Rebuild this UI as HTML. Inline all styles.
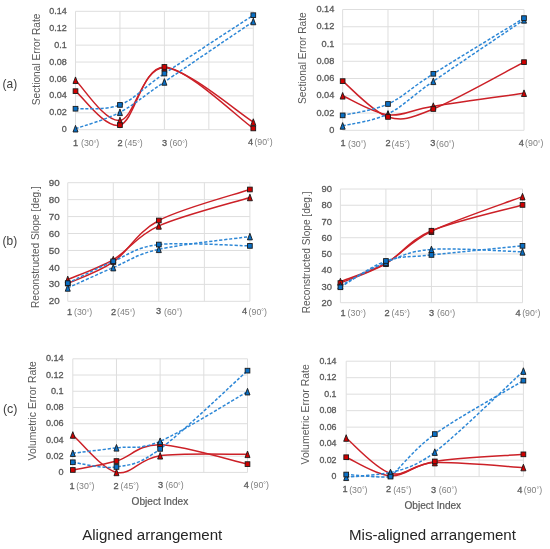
<!DOCTYPE html>
<html><head><meta charset="utf-8"><style>
html,body{margin:0;padding:0;background:#fff;}
body{width:550px;height:549px;overflow:hidden;}
svg{display:block;font-family:"Liberation Sans",sans-serif;will-change:transform;filter:blur(0.4px);}
</style></head><body>
<svg width="550" height="549" viewBox="0 0 550 549">
<rect width="550" height="549" fill="#fff"/>
<g><line x1="75.50" y1="129.70" x2="253.30" y2="129.70" stroke="#dedede" stroke-width="1"/>
<text x="66.80" y="129.30" font-size="9.0" text-anchor="end" fill="#595959" stroke="#595959" stroke-width="0.3" dominant-baseline="central">0</text>
<line x1="75.50" y1="112.79" x2="253.30" y2="112.79" stroke="#dedede" stroke-width="1"/>
<text x="66.80" y="112.39" font-size="9.0" text-anchor="end" fill="#595959" stroke="#595959" stroke-width="0.3" dominant-baseline="central">0.02</text>
<line x1="75.50" y1="95.87" x2="253.30" y2="95.87" stroke="#dedede" stroke-width="1"/>
<text x="66.80" y="95.47" font-size="9.0" text-anchor="end" fill="#595959" stroke="#595959" stroke-width="0.3" dominant-baseline="central">0.04</text>
<line x1="75.50" y1="78.96" x2="253.30" y2="78.96" stroke="#dedede" stroke-width="1"/>
<text x="66.80" y="78.56" font-size="9.0" text-anchor="end" fill="#595959" stroke="#595959" stroke-width="0.3" dominant-baseline="central">0.06</text>
<line x1="75.50" y1="62.04" x2="253.30" y2="62.04" stroke="#dedede" stroke-width="1"/>
<text x="66.80" y="61.64" font-size="9.0" text-anchor="end" fill="#595959" stroke="#595959" stroke-width="0.3" dominant-baseline="central">0.08</text>
<line x1="75.50" y1="45.13" x2="253.30" y2="45.13" stroke="#dedede" stroke-width="1"/>
<text x="66.80" y="44.73" font-size="9.0" text-anchor="end" fill="#595959" stroke="#595959" stroke-width="0.3" dominant-baseline="central">0.1</text>
<line x1="75.50" y1="28.21" x2="253.30" y2="28.21" stroke="#dedede" stroke-width="1"/>
<text x="66.80" y="27.81" font-size="9.0" text-anchor="end" fill="#595959" stroke="#595959" stroke-width="0.3" dominant-baseline="central">0.12</text>
<line x1="75.50" y1="11.30" x2="253.30" y2="11.30" stroke="#dedede" stroke-width="1"/>
<text x="66.80" y="10.90" font-size="9.0" text-anchor="end" fill="#595959" stroke="#595959" stroke-width="0.3" dominant-baseline="central">0.14</text>
<line x1="75.50" y1="11.30" x2="75.50" y2="129.70" stroke="#dedede" stroke-width="1"/>
<line x1="119.95" y1="11.30" x2="119.95" y2="129.70" stroke="#dedede" stroke-width="1"/>
<line x1="164.40" y1="11.30" x2="164.40" y2="129.70" stroke="#dedede" stroke-width="1"/>
<line x1="208.85" y1="11.30" x2="208.85" y2="129.70" stroke="#dedede" stroke-width="1"/>
<line x1="253.30" y1="11.30" x2="253.30" y2="129.70" stroke="#dedede" stroke-width="1"/>
<text transform="translate(39.70,59.35) rotate(-90)" font-size="10.2" text-anchor="middle" fill="#595959">Sectional Error Rate</text>
<text x="73.10" y="146.00" font-size="9.2" fill="#5a5a5a" stroke="#5a5a5a" stroke-width="0.3">1</text>
<text x="81.00" y="146.30" font-size="8.8" fill="#808080">(30<tspan font-size="6.5" dy="-0.6">°</tspan><tspan dy="0.6">)</tspan></text>
<text x="117.40" y="146.00" font-size="9.2" fill="#5a5a5a" stroke="#5a5a5a" stroke-width="0.3">2</text>
<text x="124.50" y="146.30" font-size="8.8" fill="#808080">(45<tspan font-size="6.5" dy="-0.6">°</tspan><tspan dy="0.6">)</tspan></text>
<text x="161.90" y="146.00" font-size="9.2" fill="#5a5a5a" stroke="#5a5a5a" stroke-width="0.3">3</text>
<text x="169.50" y="146.30" font-size="8.8" fill="#808080">(60<tspan font-size="6.5" dy="-0.6">°</tspan><tspan dy="0.6">)</tspan></text>
<text x="247.90" y="144.60" font-size="9.2" fill="#5a5a5a" stroke="#5a5a5a" stroke-width="0.3">4</text>
<text x="254.40" y="144.90" font-size="8.8" fill="#808080">(90<tspan font-size="6.5" dy="-0.6">°</tspan><tspan dy="0.6">)</tspan></text>
<path d="M75.50,80.23 C82.91,86.94 105.13,122.57 119.95,120.48 C134.77,118.40 142.18,67.44 164.40,67.71 C186.62,67.98 238.48,113.03 253.30,122.09" fill="none" stroke="#cc2027" stroke-width="1.5"/>
<path d="M75.50,91.14 C82.91,96.80 105.13,129.16 119.95,125.13 C134.77,121.10 142.18,66.40 164.40,66.95 C186.62,67.50 238.48,118.18 253.30,128.43" fill="none" stroke="#cc2027" stroke-width="1.5"/>
<path d="M75.50,108.73 C82.91,108.09 105.13,110.78 119.95,104.92 C134.77,99.06 142.18,88.50 164.40,73.54 C186.62,58.59 238.48,24.92 253.30,15.19" fill="none" stroke="#2d87d6" stroke-width="1.5" stroke-dasharray="3.2 1.8"/>
<path d="M75.50,128.69 C82.91,125.95 105.13,120.07 119.95,112.28 C134.77,104.48 142.18,97.06 164.40,81.92 C186.62,66.78 238.48,31.53 253.30,21.45" fill="none" stroke="#2d87d6" stroke-width="1.5" stroke-dasharray="3.2 1.8"/>
<path d="M75.50,76.93 L78.00,83.53 L73.00,83.53 Z" fill="#d00000" stroke="#1a1a1a" stroke-width="0.9" stroke-linejoin="miter"/>
<path d="M119.95,117.18 L122.45,123.78 L117.45,123.78 Z" fill="#d00000" stroke="#1a1a1a" stroke-width="0.9" stroke-linejoin="miter"/>
<path d="M164.40,64.41 L166.90,71.01 L161.90,71.01 Z" fill="#d00000" stroke="#1a1a1a" stroke-width="0.9" stroke-linejoin="miter"/>
<path d="M253.30,118.79 L255.80,125.39 L250.80,125.39 Z" fill="#d00000" stroke="#1a1a1a" stroke-width="0.9" stroke-linejoin="miter"/>
<rect x="73.15" y="88.79" width="4.70" height="4.70" fill="#d00000" stroke="#1a1a1a" stroke-width="0.9"/>
<rect x="117.60" y="122.78" width="4.70" height="4.70" fill="#d00000" stroke="#1a1a1a" stroke-width="0.9"/>
<rect x="162.05" y="64.60" width="4.70" height="4.70" fill="#d00000" stroke="#1a1a1a" stroke-width="0.9"/>
<rect x="250.95" y="126.08" width="4.70" height="4.70" fill="#d00000" stroke="#1a1a1a" stroke-width="0.9"/>
<path d="M75.50,125.39 L78.00,131.99 L73.00,131.99 Z" fill="#0a6fc4" stroke="#1a1a1a" stroke-width="0.9" stroke-linejoin="miter"/>
<path d="M119.95,108.98 L122.45,115.58 L117.45,115.58 Z" fill="#0a6fc4" stroke="#1a1a1a" stroke-width="0.9" stroke-linejoin="miter"/>
<path d="M164.40,78.62 L166.90,85.22 L161.90,85.22 Z" fill="#0a6fc4" stroke="#1a1a1a" stroke-width="0.9" stroke-linejoin="miter"/>
<path d="M253.30,18.15 L255.80,24.75 L250.80,24.75 Z" fill="#0a6fc4" stroke="#1a1a1a" stroke-width="0.9" stroke-linejoin="miter"/>
<rect x="73.15" y="106.38" width="4.70" height="4.70" fill="#0a6fc4" stroke="#1a1a1a" stroke-width="0.9"/>
<rect x="117.60" y="102.57" width="4.70" height="4.70" fill="#0a6fc4" stroke="#1a1a1a" stroke-width="0.9"/>
<rect x="162.05" y="71.19" width="4.70" height="4.70" fill="#0a6fc4" stroke="#1a1a1a" stroke-width="0.9"/>
<rect x="250.95" y="12.84" width="4.70" height="4.70" fill="#0a6fc4" stroke="#1a1a1a" stroke-width="0.9"/></g>
<g><line x1="342.65" y1="130.30" x2="524.00" y2="130.30" stroke="#dedede" stroke-width="1"/>
<text x="334.30" y="129.90" font-size="9.2" text-anchor="end" fill="#595959" stroke="#595959" stroke-width="0.3" dominant-baseline="central">0</text>
<line x1="342.65" y1="113.04" x2="524.00" y2="113.04" stroke="#dedede" stroke-width="1"/>
<text x="334.30" y="112.64" font-size="9.2" text-anchor="end" fill="#595959" stroke="#595959" stroke-width="0.3" dominant-baseline="central">0.02</text>
<line x1="342.65" y1="95.79" x2="524.00" y2="95.79" stroke="#dedede" stroke-width="1"/>
<text x="334.30" y="95.39" font-size="9.2" text-anchor="end" fill="#595959" stroke="#595959" stroke-width="0.3" dominant-baseline="central">0.04</text>
<line x1="342.65" y1="78.53" x2="524.00" y2="78.53" stroke="#dedede" stroke-width="1"/>
<text x="334.30" y="78.13" font-size="9.2" text-anchor="end" fill="#595959" stroke="#595959" stroke-width="0.3" dominant-baseline="central">0.06</text>
<line x1="342.65" y1="61.27" x2="524.00" y2="61.27" stroke="#dedede" stroke-width="1"/>
<text x="334.30" y="60.87" font-size="9.2" text-anchor="end" fill="#595959" stroke="#595959" stroke-width="0.3" dominant-baseline="central">0.08</text>
<line x1="342.65" y1="44.01" x2="524.00" y2="44.01" stroke="#dedede" stroke-width="1"/>
<text x="334.30" y="43.61" font-size="9.2" text-anchor="end" fill="#595959" stroke="#595959" stroke-width="0.3" dominant-baseline="central">0.1</text>
<line x1="342.65" y1="26.76" x2="524.00" y2="26.76" stroke="#dedede" stroke-width="1"/>
<text x="334.30" y="26.36" font-size="9.2" text-anchor="end" fill="#595959" stroke="#595959" stroke-width="0.3" dominant-baseline="central">0.12</text>
<line x1="342.65" y1="9.50" x2="524.00" y2="9.50" stroke="#dedede" stroke-width="1"/>
<text x="334.30" y="9.10" font-size="9.2" text-anchor="end" fill="#595959" stroke="#595959" stroke-width="0.3" dominant-baseline="central">0.14</text>
<line x1="342.65" y1="9.50" x2="342.65" y2="130.30" stroke="#dedede" stroke-width="1"/>
<line x1="387.99" y1="9.50" x2="387.99" y2="130.30" stroke="#dedede" stroke-width="1"/>
<line x1="433.32" y1="9.50" x2="433.32" y2="130.30" stroke="#dedede" stroke-width="1"/>
<line x1="478.66" y1="9.50" x2="478.66" y2="130.30" stroke="#dedede" stroke-width="1"/>
<line x1="524.00" y1="9.50" x2="524.00" y2="130.30" stroke="#dedede" stroke-width="1"/>
<text transform="translate(306.40,58.10) rotate(-90)" font-size="10.2" text-anchor="middle" fill="#595959">Sectional Error Rate</text>
<text x="340.50" y="146.40" font-size="9.2" fill="#5a5a5a" stroke="#5a5a5a" stroke-width="0.3">1</text>
<text x="348.00" y="146.70" font-size="8.8" fill="#808080">(30<tspan font-size="6.5" dy="-0.6">°</tspan><tspan dy="0.6">)</tspan></text>
<text x="385.50" y="146.40" font-size="9.2" fill="#5a5a5a" stroke="#5a5a5a" stroke-width="0.3">2</text>
<text x="391.60" y="146.70" font-size="8.8" fill="#808080">(45<tspan font-size="6.5" dy="-0.6">°</tspan><tspan dy="0.6">)</tspan></text>
<text x="430.20" y="146.40" font-size="9.2" fill="#5a5a5a" stroke="#5a5a5a" stroke-width="0.3">3</text>
<text x="436.10" y="146.70" font-size="8.8" fill="#808080">(60<tspan font-size="6.5" dy="-0.6">°</tspan><tspan dy="0.6">)</tspan></text>
<text x="518.80" y="146.00" font-size="9.2" fill="#5a5a5a" stroke="#5a5a5a" stroke-width="0.3">4</text>
<text x="525.10" y="146.30" font-size="8.8" fill="#808080">(90<tspan font-size="6.5" dy="-0.6">°</tspan><tspan dy="0.6">)</tspan></text>
<path d="M342.65,95.79 C350.21,98.95 372.87,113.04 387.99,114.77 C403.10,116.49 410.66,109.74 433.32,106.14 C455.99,102.54 508.89,95.35 524.00,93.20" fill="none" stroke="#cc2027" stroke-width="1.5"/>
<path d="M342.65,81.12 C350.21,87.09 372.87,112.28 387.99,116.93 C403.10,121.57 410.66,118.12 433.32,108.99 C455.99,99.86 508.89,69.94 524.00,62.13" fill="none" stroke="#cc2027" stroke-width="1.5"/>
<path d="M342.65,115.37 C350.21,113.47 372.87,110.91 387.99,103.98 C403.10,97.05 410.66,88.09 433.32,73.78 C455.99,59.47 508.89,27.40 524.00,18.13" fill="none" stroke="#2d87d6" stroke-width="1.5" stroke-dasharray="3.2 1.8"/>
<path d="M342.65,125.90 C350.21,123.90 372.87,121.34 387.99,113.91 C403.10,106.47 410.66,96.96 433.32,81.29 C455.99,65.61 508.89,30.09 524.00,19.85" fill="none" stroke="#2d87d6" stroke-width="1.5" stroke-dasharray="3.2 1.8"/>
<path d="M342.65,122.60 L345.15,129.20 L340.15,129.20 Z" fill="#0a6fc4" stroke="#1a1a1a" stroke-width="0.9" stroke-linejoin="miter"/>
<path d="M387.99,110.61 L390.49,117.21 L385.49,117.21 Z" fill="#0a6fc4" stroke="#1a1a1a" stroke-width="0.9" stroke-linejoin="miter"/>
<path d="M433.32,77.99 L435.82,84.59 L430.82,84.59 Z" fill="#0a6fc4" stroke="#1a1a1a" stroke-width="0.9" stroke-linejoin="miter"/>
<path d="M524.00,16.55 L526.50,23.15 L521.50,23.15 Z" fill="#0a6fc4" stroke="#1a1a1a" stroke-width="0.9" stroke-linejoin="miter"/>
<path d="M342.65,92.49 L345.15,99.09 L340.15,99.09 Z" fill="#d00000" stroke="#1a1a1a" stroke-width="0.9" stroke-linejoin="miter"/>
<path d="M387.99,111.47 L390.49,118.07 L385.49,118.07 Z" fill="#d00000" stroke="#1a1a1a" stroke-width="0.9" stroke-linejoin="miter"/>
<path d="M433.32,102.84 L435.82,109.44 L430.82,109.44 Z" fill="#d00000" stroke="#1a1a1a" stroke-width="0.9" stroke-linejoin="miter"/>
<path d="M524.00,89.90 L526.50,96.50 L521.50,96.50 Z" fill="#d00000" stroke="#1a1a1a" stroke-width="0.9" stroke-linejoin="miter"/>
<rect x="340.30" y="78.77" width="4.70" height="4.70" fill="#d00000" stroke="#1a1a1a" stroke-width="0.9"/>
<rect x="385.64" y="114.58" width="4.70" height="4.70" fill="#d00000" stroke="#1a1a1a" stroke-width="0.9"/>
<rect x="430.97" y="106.64" width="4.70" height="4.70" fill="#d00000" stroke="#1a1a1a" stroke-width="0.9"/>
<rect x="521.65" y="59.78" width="4.70" height="4.70" fill="#d00000" stroke="#1a1a1a" stroke-width="0.9"/>
<rect x="340.30" y="113.02" width="4.70" height="4.70" fill="#0a6fc4" stroke="#1a1a1a" stroke-width="0.9"/>
<rect x="385.64" y="101.63" width="4.70" height="4.70" fill="#0a6fc4" stroke="#1a1a1a" stroke-width="0.9"/>
<rect x="430.97" y="71.43" width="4.70" height="4.70" fill="#0a6fc4" stroke="#1a1a1a" stroke-width="0.9"/>
<rect x="521.65" y="15.78" width="4.70" height="4.70" fill="#0a6fc4" stroke="#1a1a1a" stroke-width="0.9"/></g>
<g><line x1="67.75" y1="301.30" x2="249.90" y2="301.30" stroke="#dedede" stroke-width="1"/>
<text x="59.60" y="300.90" font-size="9.8" text-anchor="end" fill="#595959" stroke="#595959" stroke-width="0.3" dominant-baseline="central">20</text>
<line x1="67.75" y1="284.36" x2="249.90" y2="284.36" stroke="#dedede" stroke-width="1"/>
<text x="59.60" y="283.96" font-size="9.8" text-anchor="end" fill="#595959" stroke="#595959" stroke-width="0.3" dominant-baseline="central">30</text>
<line x1="67.75" y1="267.41" x2="249.90" y2="267.41" stroke="#dedede" stroke-width="1"/>
<text x="59.60" y="267.01" font-size="9.8" text-anchor="end" fill="#595959" stroke="#595959" stroke-width="0.3" dominant-baseline="central">40</text>
<line x1="67.75" y1="250.47" x2="249.90" y2="250.47" stroke="#dedede" stroke-width="1"/>
<text x="59.60" y="250.07" font-size="9.8" text-anchor="end" fill="#595959" stroke="#595959" stroke-width="0.3" dominant-baseline="central">50</text>
<line x1="67.75" y1="233.53" x2="249.90" y2="233.53" stroke="#dedede" stroke-width="1"/>
<text x="59.60" y="233.13" font-size="9.8" text-anchor="end" fill="#595959" stroke="#595959" stroke-width="0.3" dominant-baseline="central">60</text>
<line x1="67.75" y1="216.59" x2="249.90" y2="216.59" stroke="#dedede" stroke-width="1"/>
<text x="59.60" y="216.19" font-size="9.8" text-anchor="end" fill="#595959" stroke="#595959" stroke-width="0.3" dominant-baseline="central">70</text>
<line x1="67.75" y1="199.64" x2="249.90" y2="199.64" stroke="#dedede" stroke-width="1"/>
<text x="59.60" y="199.24" font-size="9.8" text-anchor="end" fill="#595959" stroke="#595959" stroke-width="0.3" dominant-baseline="central">80</text>
<line x1="67.75" y1="182.70" x2="249.90" y2="182.70" stroke="#dedede" stroke-width="1"/>
<text x="59.60" y="182.30" font-size="9.8" text-anchor="end" fill="#595959" stroke="#595959" stroke-width="0.3" dominant-baseline="central">90</text>
<line x1="67.75" y1="182.70" x2="67.75" y2="301.30" stroke="#dedede" stroke-width="1"/>
<line x1="113.29" y1="182.70" x2="113.29" y2="301.30" stroke="#dedede" stroke-width="1"/>
<line x1="158.82" y1="182.70" x2="158.82" y2="301.30" stroke="#dedede" stroke-width="1"/>
<line x1="204.36" y1="182.70" x2="204.36" y2="301.30" stroke="#dedede" stroke-width="1"/>
<line x1="249.90" y1="182.70" x2="249.90" y2="301.30" stroke="#dedede" stroke-width="1"/>
<text transform="translate(39.00,247.10) rotate(-90)" font-size="10.1" text-anchor="middle" fill="#595959">Reconstructed Slope [deg.]</text>
<text x="67.10" y="314.80" font-size="9.2" fill="#5a5a5a" stroke="#5a5a5a" stroke-width="0.3">1</text>
<text x="74.00" y="315.10" font-size="8.8" fill="#808080">(30<tspan font-size="6.5" dy="-0.6">°</tspan><tspan dy="0.6">)</tspan></text>
<text x="111.10" y="314.80" font-size="9.2" fill="#5a5a5a" stroke="#5a5a5a" stroke-width="0.3">2</text>
<text x="117.00" y="315.10" font-size="8.8" fill="#808080">(45<tspan font-size="6.5" dy="-0.6">°</tspan><tspan dy="0.6">)</tspan></text>
<text x="155.90" y="314.40" font-size="9.2" fill="#5a5a5a" stroke="#5a5a5a" stroke-width="0.3">3</text>
<text x="164.00" y="314.70" font-size="8.8" fill="#808080">(60<tspan font-size="6.5" dy="-0.6">°</tspan><tspan dy="0.6">)</tspan></text>
<text x="242.00" y="314.20" font-size="9.2" fill="#5a5a5a" stroke="#5a5a5a" stroke-width="0.3">4</text>
<text x="248.60" y="314.50" font-size="8.8" fill="#808080">(90<tspan font-size="6.5" dy="-0.6">°</tspan><tspan dy="0.6">)</tspan></text>
<path d="M67.75,279.44 C75.34,276.14 98.11,268.54 113.29,259.62 C128.47,250.70 136.06,236.27 158.82,225.90 C181.59,215.54 234.72,202.18 249.90,197.44" fill="none" stroke="#cc2027" stroke-width="1.5"/>
<path d="M67.75,283.51 C75.34,279.92 98.11,272.50 113.29,261.99 C128.47,251.49 136.06,232.57 158.82,220.48 C181.59,208.40 234.72,194.64 249.90,189.48" fill="none" stroke="#cc2027" stroke-width="1.5"/>
<path d="M67.75,283.17 C75.34,279.53 98.11,267.75 113.29,261.31 C128.47,254.88 136.06,247.11 158.82,244.54 C181.59,241.97 234.72,245.67 249.90,245.90" fill="none" stroke="#2d87d6" stroke-width="1.5" stroke-dasharray="3.2 1.8"/>
<path d="M67.75,287.92 C75.34,284.53 98.11,274.02 113.29,267.58 C128.47,261.15 136.06,254.45 158.82,249.29 C181.59,244.12 234.72,238.70 249.90,236.58" fill="none" stroke="#2d87d6" stroke-width="1.5" stroke-dasharray="3.2 1.8"/>
<path d="M67.75,276.14 L70.25,282.74 L65.25,282.74 Z" fill="#d00000" stroke="#1a1a1a" stroke-width="0.9" stroke-linejoin="miter"/>
<path d="M113.29,256.32 L115.79,262.92 L110.79,262.92 Z" fill="#d00000" stroke="#1a1a1a" stroke-width="0.9" stroke-linejoin="miter"/>
<path d="M158.82,222.60 L161.32,229.20 L156.32,229.20 Z" fill="#d00000" stroke="#1a1a1a" stroke-width="0.9" stroke-linejoin="miter"/>
<path d="M249.90,194.14 L252.40,200.74 L247.40,200.74 Z" fill="#d00000" stroke="#1a1a1a" stroke-width="0.9" stroke-linejoin="miter"/>
<rect x="65.40" y="281.16" width="4.70" height="4.70" fill="#d00000" stroke="#1a1a1a" stroke-width="0.9"/>
<rect x="110.94" y="259.64" width="4.70" height="4.70" fill="#d00000" stroke="#1a1a1a" stroke-width="0.9"/>
<rect x="156.47" y="218.13" width="4.70" height="4.70" fill="#d00000" stroke="#1a1a1a" stroke-width="0.9"/>
<rect x="247.55" y="187.13" width="4.70" height="4.70" fill="#d00000" stroke="#1a1a1a" stroke-width="0.9"/>
<path d="M67.75,284.62 L70.25,291.22 L65.25,291.22 Z" fill="#0a6fc4" stroke="#1a1a1a" stroke-width="0.9" stroke-linejoin="miter"/>
<path d="M113.29,264.28 L115.79,270.88 L110.79,270.88 Z" fill="#0a6fc4" stroke="#1a1a1a" stroke-width="0.9" stroke-linejoin="miter"/>
<path d="M158.82,245.99 L161.32,252.59 L156.32,252.59 Z" fill="#0a6fc4" stroke="#1a1a1a" stroke-width="0.9" stroke-linejoin="miter"/>
<path d="M249.90,233.28 L252.40,239.88 L247.40,239.88 Z" fill="#0a6fc4" stroke="#1a1a1a" stroke-width="0.9" stroke-linejoin="miter"/>
<rect x="65.40" y="280.82" width="4.70" height="4.70" fill="#0a6fc4" stroke="#1a1a1a" stroke-width="0.9"/>
<rect x="110.94" y="258.96" width="4.70" height="4.70" fill="#0a6fc4" stroke="#1a1a1a" stroke-width="0.9"/>
<rect x="156.47" y="242.19" width="4.70" height="4.70" fill="#0a6fc4" stroke="#1a1a1a" stroke-width="0.9"/>
<rect x="247.55" y="243.55" width="4.70" height="4.70" fill="#0a6fc4" stroke="#1a1a1a" stroke-width="0.9"/></g>
<g><line x1="340.40" y1="302.70" x2="522.50" y2="302.70" stroke="#dedede" stroke-width="1"/>
<text x="332.00" y="302.30" font-size="9.4" text-anchor="end" fill="#595959" stroke="#595959" stroke-width="0.3" dominant-baseline="central">20</text>
<line x1="340.40" y1="286.46" x2="522.50" y2="286.46" stroke="#dedede" stroke-width="1"/>
<text x="332.00" y="286.06" font-size="9.4" text-anchor="end" fill="#595959" stroke="#595959" stroke-width="0.3" dominant-baseline="central">30</text>
<line x1="340.40" y1="270.21" x2="522.50" y2="270.21" stroke="#dedede" stroke-width="1"/>
<text x="332.00" y="269.81" font-size="9.4" text-anchor="end" fill="#595959" stroke="#595959" stroke-width="0.3" dominant-baseline="central">40</text>
<line x1="340.40" y1="253.97" x2="522.50" y2="253.97" stroke="#dedede" stroke-width="1"/>
<text x="332.00" y="253.57" font-size="9.4" text-anchor="end" fill="#595959" stroke="#595959" stroke-width="0.3" dominant-baseline="central">50</text>
<line x1="340.40" y1="237.73" x2="522.50" y2="237.73" stroke="#dedede" stroke-width="1"/>
<text x="332.00" y="237.33" font-size="9.4" text-anchor="end" fill="#595959" stroke="#595959" stroke-width="0.3" dominant-baseline="central">60</text>
<line x1="340.40" y1="221.49" x2="522.50" y2="221.49" stroke="#dedede" stroke-width="1"/>
<text x="332.00" y="221.09" font-size="9.4" text-anchor="end" fill="#595959" stroke="#595959" stroke-width="0.3" dominant-baseline="central">70</text>
<line x1="340.40" y1="205.24" x2="522.50" y2="205.24" stroke="#dedede" stroke-width="1"/>
<text x="332.00" y="204.84" font-size="9.4" text-anchor="end" fill="#595959" stroke="#595959" stroke-width="0.3" dominant-baseline="central">80</text>
<line x1="340.40" y1="189.00" x2="522.50" y2="189.00" stroke="#dedede" stroke-width="1"/>
<text x="332.00" y="188.60" font-size="9.4" text-anchor="end" fill="#595959" stroke="#595959" stroke-width="0.3" dominant-baseline="central">90</text>
<line x1="340.40" y1="189.00" x2="340.40" y2="302.70" stroke="#dedede" stroke-width="1"/>
<line x1="385.92" y1="189.00" x2="385.92" y2="302.70" stroke="#dedede" stroke-width="1"/>
<line x1="431.45" y1="189.00" x2="431.45" y2="302.70" stroke="#dedede" stroke-width="1"/>
<line x1="476.98" y1="189.00" x2="476.98" y2="302.70" stroke="#dedede" stroke-width="1"/>
<line x1="522.50" y1="189.00" x2="522.50" y2="302.70" stroke="#dedede" stroke-width="1"/>
<text transform="translate(310.40,252.30) rotate(-90)" font-size="10.1" text-anchor="middle" fill="#595959">Reconstructed Slope [deg.]</text>
<text x="340.50" y="316.00" font-size="9.2" fill="#5a5a5a" stroke="#5a5a5a" stroke-width="0.3">1</text>
<text x="347.60" y="316.30" font-size="8.8" fill="#808080">(30<tspan font-size="6.5" dy="-0.6">°</tspan><tspan dy="0.6">)</tspan></text>
<text x="384.50" y="316.00" font-size="9.2" fill="#5a5a5a" stroke="#5a5a5a" stroke-width="0.3">2</text>
<text x="391.60" y="316.30" font-size="8.8" fill="#808080">(45<tspan font-size="6.5" dy="-0.6">°</tspan><tspan dy="0.6">)</tspan></text>
<text x="429.00" y="316.00" font-size="9.2" fill="#5a5a5a" stroke="#5a5a5a" stroke-width="0.3">3</text>
<text x="437.00" y="316.30" font-size="8.8" fill="#808080">(60<tspan font-size="6.5" dy="-0.6">°</tspan><tspan dy="0.6">)</tspan></text>
<text x="515.40" y="316.00" font-size="9.2" fill="#5a5a5a" stroke="#5a5a5a" stroke-width="0.3">4</text>
<text x="522.20" y="316.30" font-size="8.8" fill="#808080">(90<tspan font-size="6.5" dy="-0.6">°</tspan><tspan dy="0.6">)</tspan></text>
<path d="M340.40,281.58 C347.99,278.53 370.75,271.62 385.92,263.23 C401.10,254.84 408.69,242.33 431.45,231.23 C454.21,220.13 507.32,202.40 522.50,196.63" fill="none" stroke="#cc2027" stroke-width="1.5"/>
<path d="M340.40,283.05 C347.99,279.80 370.75,272.27 385.92,263.55 C401.10,254.84 408.69,240.52 431.45,230.74 C454.21,220.97 507.32,209.22 522.50,204.92" fill="none" stroke="#cc2027" stroke-width="1.5"/>
<path d="M340.40,287.27 C347.99,282.88 370.75,266.34 385.92,260.96 C401.10,255.57 408.69,257.46 431.45,254.95 C454.21,252.43 507.32,247.37 522.50,245.85" fill="none" stroke="#2d87d6" stroke-width="1.5" stroke-dasharray="3.2 1.8"/>
<path d="M340.40,285.64 C347.99,281.77 370.75,268.45 385.92,262.42 C401.10,256.38 408.69,251.18 431.45,249.42 C454.21,247.66 507.32,251.45 522.50,251.86" fill="none" stroke="#2d87d6" stroke-width="1.5" stroke-dasharray="3.2 1.8"/>
<path d="M340.40,278.28 L342.90,284.88 L337.90,284.88 Z" fill="#d00000" stroke="#1a1a1a" stroke-width="0.9" stroke-linejoin="miter"/>
<path d="M385.92,259.93 L388.42,266.53 L383.42,266.53 Z" fill="#d00000" stroke="#1a1a1a" stroke-width="0.9" stroke-linejoin="miter"/>
<path d="M431.45,227.93 L433.95,234.53 L428.95,234.53 Z" fill="#d00000" stroke="#1a1a1a" stroke-width="0.9" stroke-linejoin="miter"/>
<path d="M522.50,193.33 L525.00,199.93 L520.00,199.93 Z" fill="#d00000" stroke="#1a1a1a" stroke-width="0.9" stroke-linejoin="miter"/>
<rect x="338.05" y="280.70" width="4.70" height="4.70" fill="#d00000" stroke="#1a1a1a" stroke-width="0.9"/>
<rect x="383.57" y="261.20" width="4.70" height="4.70" fill="#d00000" stroke="#1a1a1a" stroke-width="0.9"/>
<rect x="429.10" y="228.39" width="4.70" height="4.70" fill="#d00000" stroke="#1a1a1a" stroke-width="0.9"/>
<rect x="520.15" y="202.57" width="4.70" height="4.70" fill="#d00000" stroke="#1a1a1a" stroke-width="0.9"/>
<path d="M340.40,282.34 L342.90,288.94 L337.90,288.94 Z" fill="#0a6fc4" stroke="#1a1a1a" stroke-width="0.9" stroke-linejoin="miter"/>
<path d="M385.92,259.12 L388.42,265.72 L383.42,265.72 Z" fill="#0a6fc4" stroke="#1a1a1a" stroke-width="0.9" stroke-linejoin="miter"/>
<path d="M431.45,246.12 L433.95,252.72 L428.95,252.72 Z" fill="#0a6fc4" stroke="#1a1a1a" stroke-width="0.9" stroke-linejoin="miter"/>
<path d="M522.50,248.56 L525.00,255.16 L520.00,255.16 Z" fill="#0a6fc4" stroke="#1a1a1a" stroke-width="0.9" stroke-linejoin="miter"/>
<rect x="338.05" y="284.92" width="4.70" height="4.70" fill="#0a6fc4" stroke="#1a1a1a" stroke-width="0.9"/>
<rect x="383.57" y="258.61" width="4.70" height="4.70" fill="#0a6fc4" stroke="#1a1a1a" stroke-width="0.9"/>
<rect x="429.10" y="252.60" width="4.70" height="4.70" fill="#0a6fc4" stroke="#1a1a1a" stroke-width="0.9"/>
<rect x="520.15" y="243.50" width="4.70" height="4.70" fill="#0a6fc4" stroke="#1a1a1a" stroke-width="0.9"/></g>
<g><line x1="72.80" y1="472.40" x2="247.50" y2="472.40" stroke="#dedede" stroke-width="1"/>
<text x="63.60" y="472.00" font-size="9.1" text-anchor="end" fill="#595959" stroke="#595959" stroke-width="0.3" dominant-baseline="central">0</text>
<line x1="72.80" y1="456.17" x2="247.50" y2="456.17" stroke="#dedede" stroke-width="1"/>
<text x="63.60" y="455.77" font-size="9.1" text-anchor="end" fill="#595959" stroke="#595959" stroke-width="0.3" dominant-baseline="central">0.02</text>
<line x1="72.80" y1="439.94" x2="247.50" y2="439.94" stroke="#dedede" stroke-width="1"/>
<text x="63.60" y="439.54" font-size="9.1" text-anchor="end" fill="#595959" stroke="#595959" stroke-width="0.3" dominant-baseline="central">0.04</text>
<line x1="72.80" y1="423.71" x2="247.50" y2="423.71" stroke="#dedede" stroke-width="1"/>
<text x="63.60" y="423.31" font-size="9.1" text-anchor="end" fill="#595959" stroke="#595959" stroke-width="0.3" dominant-baseline="central">0.06</text>
<line x1="72.80" y1="407.49" x2="247.50" y2="407.49" stroke="#dedede" stroke-width="1"/>
<text x="63.60" y="407.09" font-size="9.1" text-anchor="end" fill="#595959" stroke="#595959" stroke-width="0.3" dominant-baseline="central">0.08</text>
<line x1="72.80" y1="391.26" x2="247.50" y2="391.26" stroke="#dedede" stroke-width="1"/>
<text x="63.60" y="390.86" font-size="9.1" text-anchor="end" fill="#595959" stroke="#595959" stroke-width="0.3" dominant-baseline="central">0.1</text>
<line x1="72.80" y1="375.03" x2="247.50" y2="375.03" stroke="#dedede" stroke-width="1"/>
<text x="63.60" y="374.63" font-size="9.1" text-anchor="end" fill="#595959" stroke="#595959" stroke-width="0.3" dominant-baseline="central">0.12</text>
<line x1="72.80" y1="358.80" x2="247.50" y2="358.80" stroke="#dedede" stroke-width="1"/>
<text x="63.60" y="358.40" font-size="9.1" text-anchor="end" fill="#595959" stroke="#595959" stroke-width="0.3" dominant-baseline="central">0.14</text>
<line x1="72.80" y1="358.80" x2="72.80" y2="472.40" stroke="#dedede" stroke-width="1"/>
<line x1="116.47" y1="358.80" x2="116.47" y2="472.40" stroke="#dedede" stroke-width="1"/>
<line x1="160.15" y1="358.80" x2="160.15" y2="472.40" stroke="#dedede" stroke-width="1"/>
<line x1="203.82" y1="358.80" x2="203.82" y2="472.40" stroke="#dedede" stroke-width="1"/>
<line x1="247.50" y1="358.80" x2="247.50" y2="472.40" stroke="#dedede" stroke-width="1"/>
<text transform="translate(36.30,410.80) rotate(-90)" font-size="10.4" text-anchor="middle" fill="#595959">Volumetric Error Rate</text>
<text x="69.50" y="488.60" font-size="9.2" fill="#5a5a5a" stroke="#5a5a5a" stroke-width="0.3">1</text>
<text x="76.20" y="488.90" font-size="8.8" fill="#808080">(30<tspan font-size="6.5" dy="-0.6">°</tspan><tspan dy="0.6">)</tspan></text>
<text x="113.50" y="488.60" font-size="9.2" fill="#5a5a5a" stroke="#5a5a5a" stroke-width="0.3">2</text>
<text x="120.60" y="488.90" font-size="8.8" fill="#808080">(45<tspan font-size="6.5" dy="-0.6">°</tspan><tspan dy="0.6">)</tspan></text>
<text x="157.90" y="487.80" font-size="9.2" fill="#5a5a5a" stroke="#5a5a5a" stroke-width="0.3">3</text>
<text x="165.40" y="488.10" font-size="8.8" fill="#808080">(60<tspan font-size="6.5" dy="-0.6">°</tspan><tspan dy="0.6">)</tspan></text>
<text x="243.80" y="487.50" font-size="9.2" fill="#5a5a5a" stroke="#5a5a5a" stroke-width="0.3">4</text>
<text x="250.60" y="487.80" font-size="8.8" fill="#808080">(90<tspan font-size="6.5" dy="-0.6">°</tspan><tspan dy="0.6">)</tspan></text>
<path d="M72.80,434.99 C80.08,441.23 101.92,468.94 116.47,472.40 C131.03,475.86 138.31,458.78 160.15,455.77 C181.99,452.75 232.94,454.55 247.50,454.31" fill="none" stroke="#cc2027" stroke-width="1.5"/>
<path d="M72.80,469.97 C80.08,468.48 101.92,465.23 116.47,461.04 C131.03,456.85 138.31,444.30 160.15,444.81 C181.99,445.33 232.94,460.90 247.50,464.12" fill="none" stroke="#cc2027" stroke-width="1.5"/>
<path d="M72.80,462.26 C80.08,463.04 101.92,469.19 116.47,466.96 C131.03,464.73 138.31,464.92 160.15,448.87 C181.99,432.82 232.94,383.68 247.50,370.65" fill="none" stroke="#2d87d6" stroke-width="1.5" stroke-dasharray="3.2 1.8"/>
<path d="M72.80,453.25 C80.08,452.34 101.92,449.82 116.47,447.81 C131.03,445.81 138.31,450.60 160.15,441.24 C181.99,431.88 232.94,399.93 247.50,391.66" fill="none" stroke="#2d87d6" stroke-width="1.5" stroke-dasharray="3.2 1.8"/>
<path d="M72.80,431.69 L75.30,438.29 L70.30,438.29 Z" fill="#d00000" stroke="#1a1a1a" stroke-width="0.9" stroke-linejoin="miter"/>
<path d="M116.47,469.10 L118.97,475.70 L113.97,475.70 Z" fill="#d00000" stroke="#1a1a1a" stroke-width="0.9" stroke-linejoin="miter"/>
<path d="M160.15,452.47 L162.65,459.07 L157.65,459.07 Z" fill="#d00000" stroke="#1a1a1a" stroke-width="0.9" stroke-linejoin="miter"/>
<path d="M247.50,451.01 L250.00,457.61 L245.00,457.61 Z" fill="#d00000" stroke="#1a1a1a" stroke-width="0.9" stroke-linejoin="miter"/>
<rect x="70.45" y="467.62" width="4.70" height="4.70" fill="#d00000" stroke="#1a1a1a" stroke-width="0.9"/>
<rect x="114.12" y="458.69" width="4.70" height="4.70" fill="#d00000" stroke="#1a1a1a" stroke-width="0.9"/>
<rect x="157.80" y="442.46" width="4.70" height="4.70" fill="#d00000" stroke="#1a1a1a" stroke-width="0.9"/>
<rect x="245.15" y="461.77" width="4.70" height="4.70" fill="#d00000" stroke="#1a1a1a" stroke-width="0.9"/>
<path d="M72.80,449.95 L75.30,456.55 L70.30,456.55 Z" fill="#0a6fc4" stroke="#1a1a1a" stroke-width="0.9" stroke-linejoin="miter"/>
<path d="M116.47,444.51 L118.97,451.11 L113.97,451.11 Z" fill="#0a6fc4" stroke="#1a1a1a" stroke-width="0.9" stroke-linejoin="miter"/>
<path d="M160.15,437.94 L162.65,444.54 L157.65,444.54 Z" fill="#0a6fc4" stroke="#1a1a1a" stroke-width="0.9" stroke-linejoin="miter"/>
<path d="M247.50,388.36 L250.00,394.96 L245.00,394.96 Z" fill="#0a6fc4" stroke="#1a1a1a" stroke-width="0.9" stroke-linejoin="miter"/>
<rect x="70.45" y="459.91" width="4.70" height="4.70" fill="#0a6fc4" stroke="#1a1a1a" stroke-width="0.9"/>
<rect x="114.12" y="464.61" width="4.70" height="4.70" fill="#0a6fc4" stroke="#1a1a1a" stroke-width="0.9"/>
<rect x="157.80" y="446.52" width="4.70" height="4.70" fill="#0a6fc4" stroke="#1a1a1a" stroke-width="0.9"/>
<rect x="245.15" y="368.30" width="4.70" height="4.70" fill="#0a6fc4" stroke="#1a1a1a" stroke-width="0.9"/></g>
<g><line x1="346.20" y1="476.60" x2="523.40" y2="476.60" stroke="#dedede" stroke-width="1"/>
<text x="336.50" y="476.20" font-size="8.8" text-anchor="end" fill="#595959" stroke="#595959" stroke-width="0.3" dominant-baseline="central">0</text>
<line x1="346.20" y1="460.11" x2="523.40" y2="460.11" stroke="#dedede" stroke-width="1"/>
<text x="336.50" y="459.71" font-size="8.8" text-anchor="end" fill="#595959" stroke="#595959" stroke-width="0.3" dominant-baseline="central">0.02</text>
<line x1="346.20" y1="443.63" x2="523.40" y2="443.63" stroke="#dedede" stroke-width="1"/>
<text x="336.50" y="443.23" font-size="8.8" text-anchor="end" fill="#595959" stroke="#595959" stroke-width="0.3" dominant-baseline="central">0.04</text>
<line x1="346.20" y1="427.14" x2="523.40" y2="427.14" stroke="#dedede" stroke-width="1"/>
<text x="336.50" y="426.74" font-size="8.8" text-anchor="end" fill="#595959" stroke="#595959" stroke-width="0.3" dominant-baseline="central">0.06</text>
<line x1="346.20" y1="410.66" x2="523.40" y2="410.66" stroke="#dedede" stroke-width="1"/>
<text x="336.50" y="410.26" font-size="8.8" text-anchor="end" fill="#595959" stroke="#595959" stroke-width="0.3" dominant-baseline="central">0.08</text>
<line x1="346.20" y1="394.17" x2="523.40" y2="394.17" stroke="#dedede" stroke-width="1"/>
<text x="336.50" y="393.77" font-size="8.8" text-anchor="end" fill="#595959" stroke="#595959" stroke-width="0.3" dominant-baseline="central">0.1</text>
<line x1="346.20" y1="377.69" x2="523.40" y2="377.69" stroke="#dedede" stroke-width="1"/>
<text x="336.50" y="377.29" font-size="8.8" text-anchor="end" fill="#595959" stroke="#595959" stroke-width="0.3" dominant-baseline="central">0.12</text>
<line x1="346.20" y1="361.20" x2="523.40" y2="361.20" stroke="#dedede" stroke-width="1"/>
<text x="336.50" y="360.80" font-size="8.8" text-anchor="end" fill="#595959" stroke="#595959" stroke-width="0.3" dominant-baseline="central">0.14</text>
<line x1="346.20" y1="361.20" x2="346.20" y2="476.60" stroke="#dedede" stroke-width="1"/>
<line x1="390.50" y1="361.20" x2="390.50" y2="476.60" stroke="#dedede" stroke-width="1"/>
<line x1="434.80" y1="361.20" x2="434.80" y2="476.60" stroke="#dedede" stroke-width="1"/>
<line x1="479.10" y1="361.20" x2="479.10" y2="476.60" stroke="#dedede" stroke-width="1"/>
<line x1="523.40" y1="361.20" x2="523.40" y2="476.60" stroke="#dedede" stroke-width="1"/>
<text transform="translate(308.90,414.35) rotate(-90)" font-size="10.5" text-anchor="middle" fill="#595959">Volumetric Error Rate</text>
<text x="342.50" y="492.40" font-size="9.2" fill="#5a5a5a" stroke="#5a5a5a" stroke-width="0.3">1</text>
<text x="349.20" y="492.70" font-size="8.8" fill="#808080">(30<tspan font-size="6.5" dy="-0.6">°</tspan><tspan dy="0.6">)</tspan></text>
<text x="386.10" y="492.40" font-size="9.2" fill="#5a5a5a" stroke="#5a5a5a" stroke-width="0.3">2</text>
<text x="393.20" y="492.70" font-size="8.8" fill="#808080">(45<tspan font-size="6.5" dy="-0.6">°</tspan><tspan dy="0.6">)</tspan></text>
<text x="430.90" y="492.50" font-size="9.2" fill="#5a5a5a" stroke="#5a5a5a" stroke-width="0.3">3</text>
<text x="438.80" y="492.80" font-size="8.8" fill="#808080">(60<tspan font-size="6.5" dy="-0.6">°</tspan><tspan dy="0.6">)</tspan></text>
<text x="517.20" y="492.50" font-size="9.2" fill="#5a5a5a" stroke="#5a5a5a" stroke-width="0.3">4</text>
<text x="523.80" y="492.80" font-size="8.8" fill="#808080">(90<tspan font-size="6.5" dy="-0.6">°</tspan><tspan dy="0.6">)</tspan></text>
<path d="M346.20,438.02 C353.58,443.90 375.73,469.21 390.50,473.30 C405.27,477.40 412.65,463.55 434.80,462.59 C456.95,461.63 508.63,466.71 523.40,467.53" fill="none" stroke="#cc2027" stroke-width="1.5"/>
<path d="M346.20,457.23 C353.58,460.32 375.73,475.08 390.50,475.78 C405.27,476.48 412.65,465.01 434.80,461.43 C456.95,457.86 508.63,455.53 523.40,454.34" fill="none" stroke="#cc2027" stroke-width="1.5"/>
<path d="M346.20,474.54 C353.58,474.88 386.81,478.29 390.50,476.60 C394.19,474.91 412.65,450.06 434.80,434.07 C456.95,418.08 508.63,389.56 523.40,380.65" fill="none" stroke="#2d87d6" stroke-width="1.5" stroke-dasharray="3.2 1.8"/>
<path d="M346.20,477.26 C353.58,476.46 383.12,474.57 390.50,472.48 C397.88,470.38 412.65,469.02 434.80,452.12 C456.95,435.22 508.63,384.60 523.40,371.09" fill="none" stroke="#2d87d6" stroke-width="1.5" stroke-dasharray="3.2 1.8"/>
<path d="M346.20,434.72 L348.70,441.32 L343.70,441.32 Z" fill="#d00000" stroke="#1a1a1a" stroke-width="0.9" stroke-linejoin="miter"/>
<path d="M390.50,470.00 L393.00,476.60 L388.00,476.60 Z" fill="#d00000" stroke="#1a1a1a" stroke-width="0.9" stroke-linejoin="miter"/>
<path d="M434.80,459.29 L437.30,465.89 L432.30,465.89 Z" fill="#d00000" stroke="#1a1a1a" stroke-width="0.9" stroke-linejoin="miter"/>
<path d="M523.40,464.23 L525.90,470.83 L520.90,470.83 Z" fill="#d00000" stroke="#1a1a1a" stroke-width="0.9" stroke-linejoin="miter"/>
<rect x="343.85" y="454.88" width="4.70" height="4.70" fill="#d00000" stroke="#1a1a1a" stroke-width="0.9"/>
<rect x="388.15" y="473.43" width="4.70" height="4.70" fill="#d00000" stroke="#1a1a1a" stroke-width="0.9"/>
<rect x="432.45" y="459.08" width="4.70" height="4.70" fill="#d00000" stroke="#1a1a1a" stroke-width="0.9"/>
<rect x="521.05" y="451.99" width="4.70" height="4.70" fill="#d00000" stroke="#1a1a1a" stroke-width="0.9"/>
<path d="M346.20,473.96 L348.70,480.56 L343.70,480.56 Z" fill="#0a6fc4" stroke="#1a1a1a" stroke-width="0.9" stroke-linejoin="miter"/>
<path d="M390.50,469.18 L393.00,475.78 L388.00,475.78 Z" fill="#0a6fc4" stroke="#1a1a1a" stroke-width="0.9" stroke-linejoin="miter"/>
<path d="M434.80,448.82 L437.30,455.42 L432.30,455.42 Z" fill="#0a6fc4" stroke="#1a1a1a" stroke-width="0.9" stroke-linejoin="miter"/>
<path d="M523.40,367.79 L525.90,374.39 L520.90,374.39 Z" fill="#0a6fc4" stroke="#1a1a1a" stroke-width="0.9" stroke-linejoin="miter"/>
<rect x="343.85" y="472.19" width="4.70" height="4.70" fill="#0a6fc4" stroke="#1a1a1a" stroke-width="0.9"/>
<rect x="388.15" y="474.25" width="4.70" height="4.70" fill="#0a6fc4" stroke="#1a1a1a" stroke-width="0.9"/>
<rect x="432.45" y="431.72" width="4.70" height="4.70" fill="#0a6fc4" stroke="#1a1a1a" stroke-width="0.9"/>
<rect x="521.05" y="378.30" width="4.70" height="4.70" fill="#0a6fc4" stroke="#1a1a1a" stroke-width="0.9"/></g>
<text x="2.60" y="88.20" font-size="12.4" fill="#404040" textLength="14.6" lengthAdjust="spacingAndGlyphs">(a)</text>
<text x="2.60" y="245.00" font-size="12.4" fill="#404040" textLength="14.6" lengthAdjust="spacingAndGlyphs">(b)</text>
<text x="2.90" y="413.40" font-size="12.4" fill="#404040" textLength="14.6" lengthAdjust="spacingAndGlyphs">(c)</text>
<text x="131.60" y="504.70" font-size="10.1" fill="#595959" stroke="#595959" stroke-width="0.2">Object Index</text>
<text x="404.50" y="509.00" font-size="10.1" fill="#595959" stroke="#595959" stroke-width="0.2">Object Index</text>
<text x="82.20" y="539.90" font-size="15.1" fill="#262626">Aligned arrangement</text>
<text x="349.00" y="539.90" font-size="15.1" fill="#262626">Mis-aligned arrangement</text>
</svg></body></html>
